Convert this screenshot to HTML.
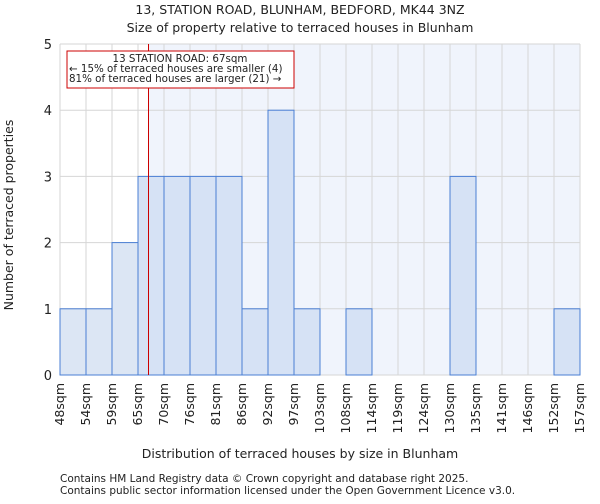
<!DOCTYPE html>
<html><head><meta charset="utf-8"><style>
body{margin:0;background:#fff;font-family:"DejaVu Sans","Liberation Sans",sans-serif}
svg text{font-family:"DejaVu Sans","Liberation Sans",sans-serif;fill:#222}
</style></head><body>
<svg id="c" width="600" height="500">
<text x="300" y="14" text-anchor="middle" font-size="12.5">13, STATION ROAD, BLUNHAM, BEDFORD, MK44 3NZ</text>
<text x="300" y="32" text-anchor="middle" font-size="12.5">Size of property relative to terraced houses in Blunham</text>
<g id="plot"></g>
<text x="300" y="458" text-anchor="middle" font-size="12.5">Distribution of terraced houses by size in Blunham</text>
<text transform="translate(13,215) rotate(-90)" text-anchor="middle" font-size="12.5">Number of terraced properties</text>
<text x="60" y="482" font-size="10.5">Contains HM Land Registry data © Crown copyright and database right 2025.</text>
<text x="60" y="494" font-size="10.5">Contains public sector information licensed under the Open Government Licence v3.0.</text>
</svg>
<script>
const binLabels=["48sqm","54sqm","59sqm","65sqm","70sqm","76sqm","81sqm","86sqm","92sqm","97sqm","103sqm","108sqm","114sqm","119sqm","124sqm","130sqm","135sqm","141sqm","146sqm","152sqm","157sqm"];
const binStarts=[48,54,59,65,70,76,81,86,92,97,103,108,114,119,124,130,135,141,146,152,157];
const counts=[1,1,2,3,3,3,3,1,4,1,0,1,0,0,0,3,0,0,0,1];
const yTicks=[0,1,2,3,4,5];
const subjectSize=67;
const L=60,R=580,T=44,B=375,yMax=5;
const n=counts.length,bw=(R-L)/n;
const xb=i=>L+i*bw;
const y=v=>B-(v/yMax)*(B-T);
function xVal(v){for(let i=0;i<n;i++){if(v>=binStarts[i]&&v<binStarts[i+1])return xb(i)+(v-binStarts[i])/(binStarts[i+1]-binStarts[i])*bw;}return R;}
const ns="http://www.w3.org/2000/svg",g=document.getElementById('plot');
function mk(t,a){const e=document.createElementNS(ns,t);for(const k in a)e.setAttribute(k,a[k]);g.appendChild(e);return e;}
const lx=Math.round(xVal(subjectSize))+0.5;
let e=mk('rect',{x:lx,y:T,width:R-lx,height:B-T,fill:'#f0f4fc'});


for(let i=0;i<=n;i++){e=mk('line',{x1:xb(i),x2:xb(i),y1:T,y2:B,stroke:'#d6d6d6','stroke-width':1});

}
yTicks.forEach(t=>{e=mk('line',{x1:L,x2:R,y1:y(t),y2:y(t),stroke:'#d6d6d6','stroke-width':1});


const tx=mk('text',{x:L-8,y:y(t)+5,'text-anchor':'end','font-size':13});tx.textContent=t;

});
counts.forEach((c,i)=>{if(c<=0)return;
const r=mk('rect',{x:xb(i),y:y(c),width:bw,height:B-y(c),fill:xb(i)+bw<=lx?'#dce6f4':'#d6e2f5',stroke:'#4a7fd4','stroke-width':1});

});
binLabels.forEach((l,i)=>{const t=mk('text',{transform:`translate(${xb(i)+4},${B+8}) rotate(-90)`,'text-anchor':'end','font-size':12.5});t.textContent=l;

});
e=mk('line',{x1:lx,x2:lx,y1:T,y2:B,stroke:'#c00','stroke-width':1});


e=mk('rect',{x:67,y:51,width:227,height:37,fill:'#fff',stroke:'#c00','stroke-width':1});


[["13 STATION ROAD: 67sqm",180,'middle'],["← 15% of terraced houses are smaller (4)",69,'start'],["81% of terraced houses are larger (21) →",69,'start']].forEach((a,i)=>{
const t=mk('text',{x:a[1],y:62+i*10,'text-anchor':a[2],'font-size':10.3});t.textContent=a[0];

});
</script>
</body></html>
